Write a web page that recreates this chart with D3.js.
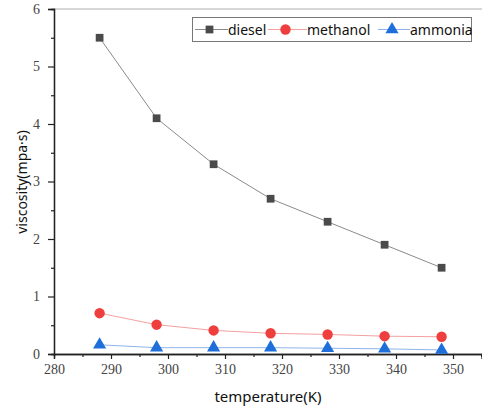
<!DOCTYPE html>
<html>
<head>
<meta charset="utf-8">
<script src="https://cdn.jsdelivr.net/npm/d3@7"></script>
<style>
body { margin: 0; background: #fff; }
</style>
</head>
<body>
<div id="chart"></div>
<script>
var temps = [288, 298, 308, 318, 328, 338, 348];
var diesel = [5.5, 4.1, 3.3, 2.7, 2.3, 1.9, 1.5];
var methanol = [0.71, 0.51, 0.41, 0.36, 0.34, 0.31, 0.30];
var ammonia = [0.16, 0.11, 0.11, 0.11, 0.10, 0.09, 0.07];
var seriesNames = ["diesel", "methanol", "ammonia"];
var xTicks = [280, 290, 300, 310, 320, 330, 340, 350];
var yTicks = [0, 1, 2, 3, 4, 5, 6];

var W = 482, H = 411;
var plotL = 54, plotR = 481.5, plotT = 9, plotB = 354;

var x = d3.scaleLinear().domain([280, 355]).range([plotL, plotR]);
var y = d3.scaleLinear().domain([0, 6]).range([plotB, plotT]);

var svg = d3.select("#chart").append("svg")
    .attr("width", W)
    .attr("height", H);

// top frame line
svg.append("line")
    .attr("x1", plotL).attr("x2", W)
    .attr("y1", plotT).attr("y2", plotT)
    .attr("stroke", "#b0b0b0").attr("stroke-width", 1);

// x axis: minor then major ticks
var gx = svg.append("g").attr("transform", "translate(0," + plotB + ")");
gx.append("g").call(d3.axisBottom(x).tickValues(d3.range(285, 356, 10)).tickSize(3).tickFormat(""));
gx.append("g").call(d3.axisBottom(x).tickValues(xTicks).tickSize(5).tickPadding(5).tickFormat(d3.format("d")));

// y axis
var gy = svg.append("g").attr("transform", "translate(" + plotL + ",0)");
gy.append("g").call(d3.axisLeft(y).tickValues(d3.range(0.5, 6, 1)).tickSize(3).tickFormat(""));
gy.append("g").call(d3.axisLeft(y).tickValues(yTicks).tickSize(6).tickPadding(8).tickFormat(d3.format("d")));

svg.selectAll(".domain").attr("stroke", "#222").attr("stroke-width", 1.3);
svg.selectAll(".tick line").attr("stroke", "#222").attr("stroke-width", 1.2);
svg.selectAll(".tick text")
    .style("font-family", "'Liberation Serif', serif")
    .style("font-size", "14px")
    .attr("fill", "#444");

// axis titles
svg.append("text")
    .attr("x", 268).attr("y", 402)
    .attr("text-anchor", "middle")
    .style("font-family", "'Noto Sans', sans-serif")
    .style("font-size", "15px")
    .attr("fill", "#111")
    .text("temperature(K)");

svg.append("text")
    .attr("transform", "translate(27,182) rotate(-90)")
    .attr("text-anchor", "middle")
    .style("font-family", "'Noto Sans', sans-serif")
    .style("font-size", "14px")
    .attr("fill", "#111")
    .text("viscosity(mpa·s)");

var styles = [
  {data: diesel, line: "#8a8a8a", fill: "#4a4a4a", symbol: d3.symbolSquare, size: 60},
  {data: methanol, line: "#f4a0a0", fill: "#ef3e3e", symbol: d3.symbolCircle, size: 85},
  {data: ammonia, line: "#8fb4ea", fill: "#1f6fdb", symbol: d3.symbolTriangle, size: 75}
];

var line = d3.line()
    .x(function(d, i) { return x(temps[i]); })
    .y(function(d) { return y(d); });

styles.forEach(function(s) {
  svg.append("path")
      .attr("d", line(s.data))
      .attr("fill", "none")
      .attr("stroke", s.line)
      .attr("stroke-width", 1);
  svg.selectAll(null)
      .data(s.data)
      .enter().append("path")
      .attr("transform", function(d, i) { return "translate(" + x(temps[i]) + "," + y(d) + ")"; })
      .attr("d", d3.symbol().type(s.symbol).size(s.size))
      .attr("fill", s.fill);
});

// legend
var lg = svg.append("g");
lg.append("rect")
    .attr("x", 192.5).attr("y", 17.5)
    .attr("width", 279).attr("height", 24)
    .attr("fill", "#fff")
    .attr("stroke", "#777").attr("stroke-width", 1);

var legX = [195, 268, 378];
var legTextX = [228, 307, 410];
styles.forEach(function(s, i) {
  lg.append("line")
      .attr("x1", legX[i]).attr("x2", legTextX[i])
      .attr("y1", 29.5).attr("y2", 29.5)
      .attr("stroke", s.line).attr("stroke-width", 1);
  lg.append("path")
      .attr("transform", "translate(" + ((legX[i] + legTextX[i]) / 2 - 2) + ",29.5)")
      .attr("d", d3.symbol().type(s.symbol).size(s.size))
      .attr("fill", s.fill);
  lg.append("text")
      .attr("x", legTextX[i]).attr("y", 35)
      .style("font-family", "'Noto Sans', sans-serif")
      .style("font-size", "14px")
      .attr("fill", "#111")
      .text(seriesNames[i]);
});
</script>
</body>
</html>
